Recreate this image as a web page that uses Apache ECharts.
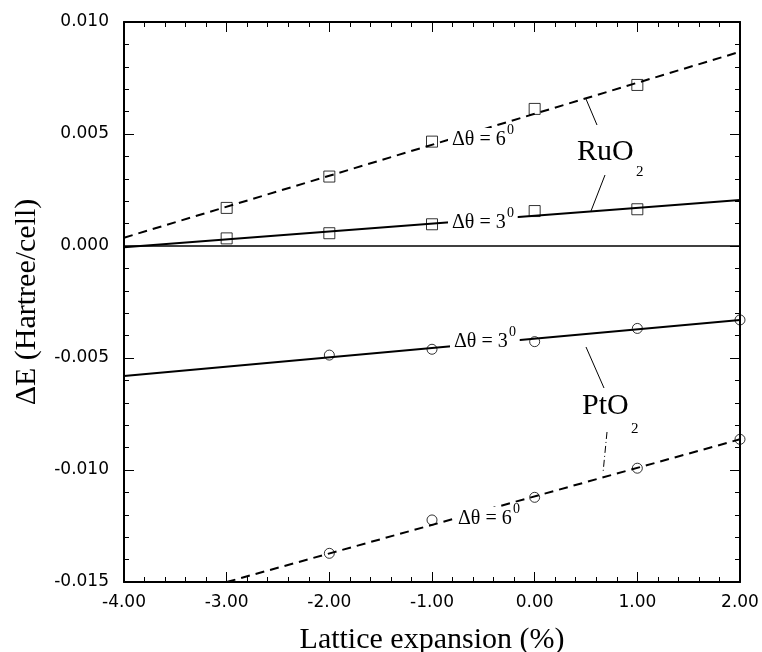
<!DOCTYPE html>
<html>
<head>
<meta charset="utf-8">
<script src="https://cdn.jsdelivr.net/npm/echarts@6/dist/echarts.min.js"></script>
<style>html,body{margin:0;padding:0;background:#fff}#c{width:762px;height:652px}</style>
</head>
<body>
<div id="c"></div>
<script>
// ---- data ----
const xPoints = [-3, -2, -1, 0, 1];
const ruo2_6deg = [0.0017, 0.0031, 0.00466, 0.00612, 0.00719];
const ruo2_3deg = [0.00034, 0.00057, 0.00097, 0.00156, 0.00164];
const ptX = [-2, -1, 0, 1, 2];
const pto2_3deg = [-0.00487, -0.00461, -0.00427, -0.00368, -0.0033];
const pto2_6deg = [-0.01372, -0.01223, -0.01122, -0.00992, -0.00863];
// fitted lines (end points)
const fitRuO2_6 = [[-4, 0.00037], [2, 0.00867]];
const fitRuO2_3 = [[-4, -0.00006], [2, 0.00205]];
const fitPtO2_3 = [[-4, -0.0058], [2, -0.0033]];
const fitPtO2_6 = [[-3, -0.015], [2, -0.00863]];
const zeroLine = [[-4, 0], [2, 0]];
const xTicks = {min: -4, max: 2, step: 1};
const yTicks = {min: -0.015, max: 0.010, step: 0.005};

const chart = echarts.init(document.getElementById('c'), null, {renderer: 'canvas'});
const pair = (xs, ys) => xs.map((x, i) => [x, ys[i]]);
const sans = 'DejaVu Sans';
const serif = 'Liberation Serif';

const baseAxis = {
  axisLine: {show: true, onZero: false, lineStyle: {color: '#000', width: 2}},
  axisTick: {show: true, inside: true, length: 10, lineStyle: {color: '#000', width: 1}},
  minorTick: {show: true, splitNumber: 5, length: 5, lineStyle: {color: '#000', width: 1}},
  splitLine: {show: false},
  minorSplitLine: {show: false}
};

const lineSeries = (data, dashed) => ({
  type: 'line', data: data, symbol: 'none', silent: true, animation: false,
  lineStyle: {color: '#000', width: 2, type: dashed ? [9, 6] : 'solid'}, z: 3
});
const markSeries = (data, sym) => ({
  type: 'scatter', data: data, symbol: sym, symbolSize: sym === 'rect' ? 11 : 10, animation: false,
  itemStyle: {color: 'rgba(0,0,0,0)', borderColor: '#000', borderWidth: 1}, z: 4
});

// x: left edge of "Δθ", y: cap centre
function label(x, y, main, sup) {
  return [
    {type: 'text', x: x - 4, y: y, z: 100,
     style: {text: main, font: '20px "' + serif + '"', fill: '#000', verticalAlign: 'middle', align: 'left',
             backgroundColor: '#fff', padding: [2, 12, 2, 4]}},
    {type: 'text', x: x + 55, y: y - 10, z: 101,
     style: {text: sup, font: '14px "' + serif + '"', fill: '#000', verticalAlign: 'middle', align: 'left'}}
  ];
}

const graphics = [].concat(
  label(452, 140, 'Δθ = 6', '0'),
  label(452, 223, 'Δθ = 3', '0'),
  label(454, 342, 'Δθ = 3', '0'),
  label(458, 519, 'Δθ = 6', '0'),
  [
    {type: 'text', x: 577, y: 152, z: 100, style: {text: 'RuO', font: '30px "' + serif + '"', fill: '#000', verticalAlign: 'middle'}},
    {type: 'text', x: 636, y: 172, z: 100, style: {text: '2', font: '15px "' + serif + '"', fill: '#000', verticalAlign: 'middle'}},
    {type: 'text', x: 582, y: 406, z: 100, style: {text: 'PtO', font: '30px "' + serif + '"', fill: '#000', verticalAlign: 'middle'}},
    {type: 'text', x: 631, y: 429, z: 100, style: {text: '2', font: '15px "' + serif + '"', fill: '#000', verticalAlign: 'middle'}},
    {type: 'line', z: 100, shape: {x1: 586, y1: 99, x2: 597, y2: 125}, style: {stroke: '#000', lineWidth: 1}},
    {type: 'line', z: 100, shape: {x1: 605, y1: 175, x2: 591, y2: 211}, style: {stroke: '#000', lineWidth: 1}},
    {type: 'line', z: 100, shape: {x1: 586, y1: 347, x2: 604, y2: 388}, style: {stroke: '#000', lineWidth: 1}},
    {type: 'line', z: 100, shape: {x1: 607, y1: 432, x2: 603, y2: 473}, style: {stroke: '#000', lineWidth: 1, lineDash: [7, 3, 1, 3]}}
  ]
);

chart.setOption({
  animation: false,
  backgroundColor: '#fff',
  grid: {left: 124, right: 22, top: 22, bottom: 70, containLabel: false, outerBoundsMode: 'none'},
  xAxis: [
    Object.assign({}, baseAxis, {
      type: 'value', position: 'bottom', min: xTicks.min, max: xTicks.max, interval: xTicks.step,
      name: 'Lattice expansion (%)', nameLocation: 'middle', nameGap: 43,
      nameTextStyle: {fontFamily: serif, fontSize: 30, color: '#000', verticalAlign: 'top'},
      axisLabel: {fontFamily: sans, fontSize: 17, color: '#000', margin: 12, formatter: v => v.toFixed(2)}
    }),
    Object.assign({}, baseAxis, {
      type: 'value', position: 'top', min: xTicks.min, max: xTicks.max, interval: xTicks.step,
      axisLabel: {show: false}
    })
  ],
  yAxis: [
    Object.assign({}, baseAxis, {
      type: 'value', position: 'left', min: yTicks.min, max: yTicks.max, interval: yTicks.step,
      name: 'ΔE (Hartree/cell)', nameLocation: 'middle', nameGap: 82,
      nameTextStyle: {fontFamily: serif, fontSize: 30, color: '#000'},
      axisLabel: {fontFamily: sans, fontSize: 17, color: '#000', margin: 15, formatter: v => v.toFixed(3)}
    }),
    Object.assign({}, baseAxis, {
      type: 'value', position: 'right', min: yTicks.min, max: yTicks.max, interval: yTicks.step,
      axisLabel: {show: false}
    })
  ],
  series: [
    Object.assign(lineSeries(zeroLine, false), {lineStyle: {color: '#000', width: 1.5}}),
    lineSeries(fitRuO2_6, true),
    lineSeries(fitRuO2_3, false),
    lineSeries(fitPtO2_3, false),
    lineSeries(fitPtO2_6, true),
    markSeries(pair(xPoints, ruo2_6deg), 'rect'),
    markSeries(pair(xPoints, ruo2_3deg), 'rect'),
    markSeries(pair(ptX, pto2_3deg), 'circle'),
    markSeries(pair(ptX, pto2_6deg), 'circle')
  ],
  graphic: graphics
});
</script>
</body>
</html>
